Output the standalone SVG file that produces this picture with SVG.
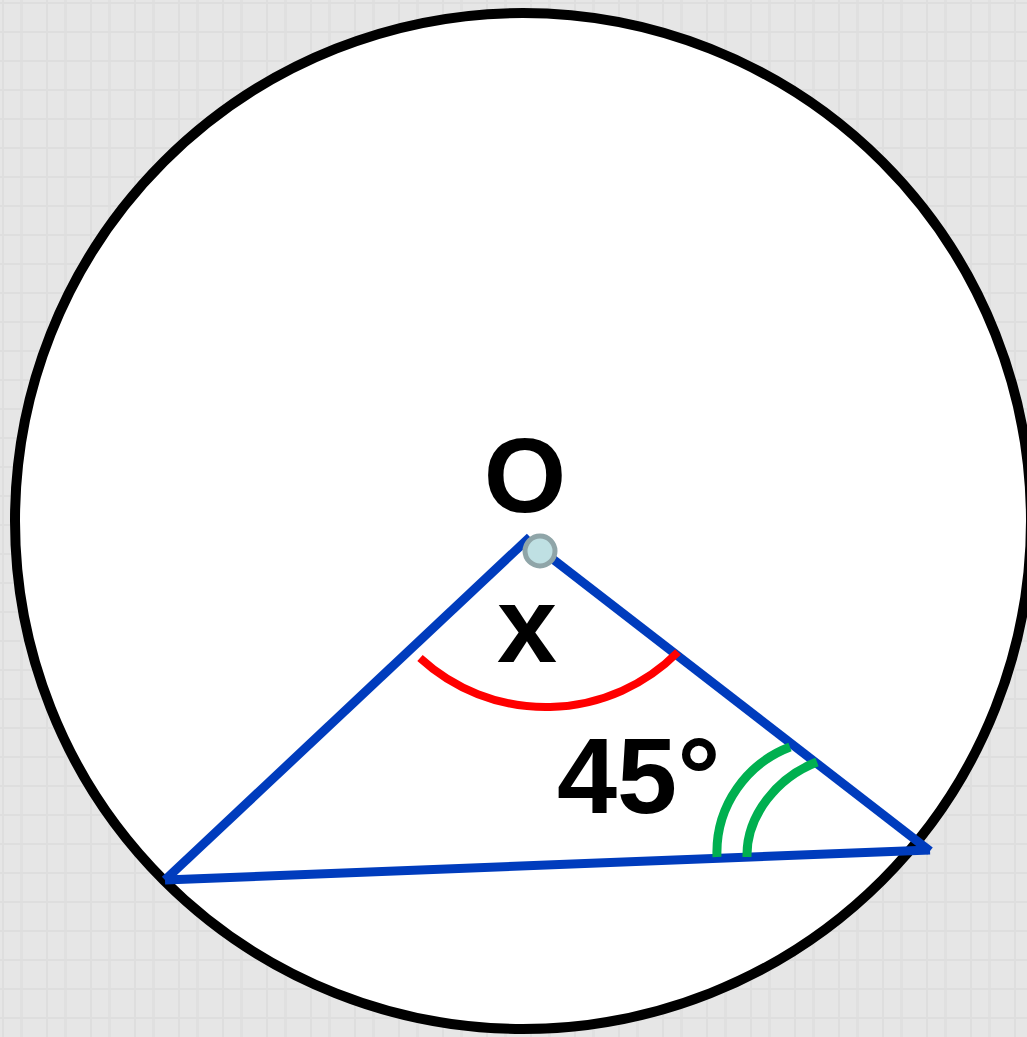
<svg xmlns="http://www.w3.org/2000/svg" width="1027" height="1037" viewBox="0 0 1027 1037">
  <defs>
    <pattern id="grid" width="44" height="29" patternUnits="userSpaceOnUse">
      <rect width="44" height="29" fill="#e6e6e6"/>
      <rect x="2" y="0" width="2" height="29" fill="#dedede"/>
      <rect x="20" y="0" width="3" height="29" fill="#e0e0e0"/>
      <rect x="0" y="2" width="44" height="2" fill="#dedede"/>
    </pattern>
    <style>
      .edge { stroke: #003cbd; stroke-width: 9; fill: none; }
      .lbl { font-family: "Liberation Sans", Arial, sans-serif; font-weight: bold; fill: #000; }
      .green { stroke: #00b050; stroke-width: 9; fill: none; }
    </style>
  </defs>
  <rect width="1027" height="1037" fill="url(#grid)"/>
  <g id="circle">
    <circle cx="523" cy="521" r="508" fill="#ffffff" stroke="#000000" stroke-width="10"/>
  </g>
  <g id="connectors">
    <line class="edge" x1="165" y1="880" x2="530" y2="537"/>
    <line class="edge" x1="532" y1="543" x2="930" y2="851"/>
    <line class="edge" x1="165" y1="880" x2="930" y2="850"/>
  </g>
  <g id="angle-x">
    <path d="M420,658 A186,186 0 0 0 678,652" fill="none" stroke="#ff0000" stroke-width="8"/>
  </g>
  <g id="angle-45">
    <path class="green" d="M717,857 C715,805 748,763 790,747"/>
    <path class="green" d="M747,857 C746,815 778,777 817,762"/>
  </g>
  <g id="center-O">
    <circle cx="540" cy="551" r="15" fill="#bfe0e3" stroke="#8fa5a8" stroke-width="5"/>
  </g>
  <g id="labels">
    <text class="lbl" x="525" y="512" font-size="106" text-anchor="middle">O</text>
    <text class="lbl" x="527" y="662" font-size="108" text-anchor="middle">x</text>
    <text class="lbl" x="557" y="813" font-size="108">45°</text>
  </g>
</svg>
